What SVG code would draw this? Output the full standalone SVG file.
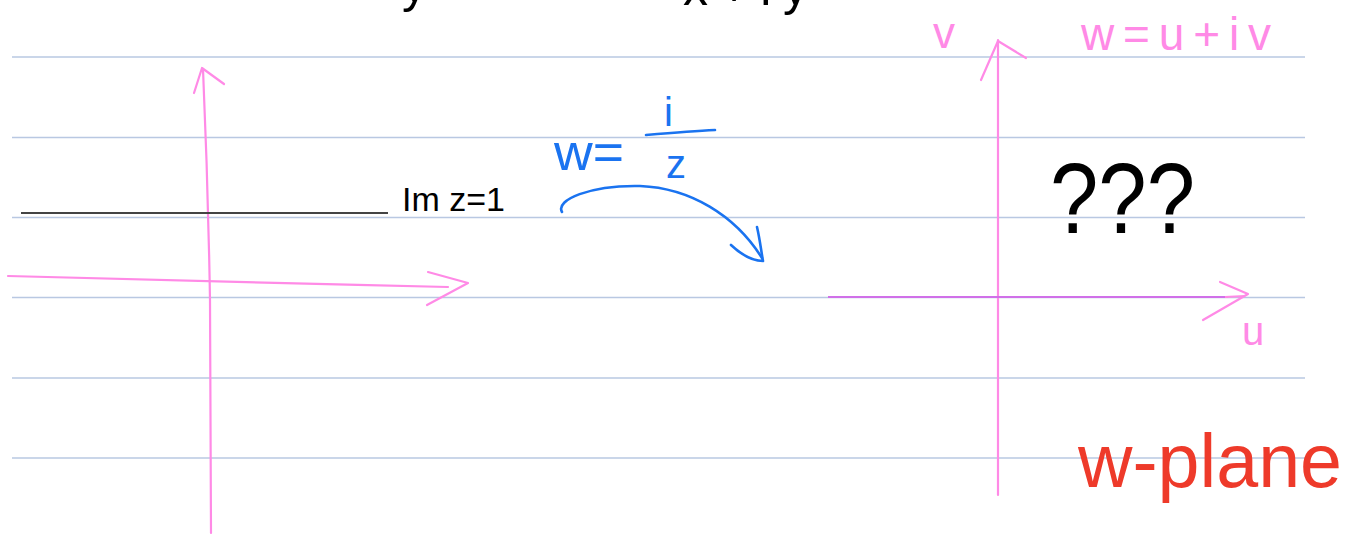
<svg xmlns="http://www.w3.org/2000/svg" width="1346" height="535" viewBox="0 0 1346 535">
<style>
.rule{stroke:#b9c8e2;stroke-width:1.3;fill:none}
.pink{stroke:#ff8ae6;stroke-width:2.2;fill:none;stroke-linecap:round;stroke-linejoin:round}
.blue{stroke:#1a73f0;stroke-width:2.6;fill:none;stroke-linecap:round;stroke-linejoin:round}
.hand{font-family:"Liberation Sans",Arial,sans-serif}
</style>
<rect width="1346" height="535" fill="#ffffff"/>
<g id="ruled-paper">
<line class="rule" x1="12" y1="57" x2="1305" y2="57"/>
<line class="rule" x1="12" y1="137.5" x2="1305" y2="137.5"/>
<line class="rule" x1="12" y1="217.5" x2="1305" y2="217.5"/>
<line class="rule" x1="12" y1="297.5" x2="1305" y2="297.5"/>
<line class="rule" x1="12" y1="378" x2="1305" y2="378"/>
<line class="rule" x1="12" y1="458" x2="1305" y2="458"/>
</g>
<g id="top-cut-text" class="hand" fill="#000" font-size="50">
<text x="402" y="2">y</text>
<text x="683" y="5" textLength="125" lengthAdjust="spacing">x+iy</text>
</g>
<g id="z-plane">
<path class="pink" d="M203,69 C207,160 209,240 210,300 C211,380 210,460 211,533"/>
<path class="pink" d="M194,93 L202,68 L224,84"/>
<path class="pink" d="M8,276 C150,279 300,284 448,287"/>
<path class="pink" d="M428,272 L468,283 L427,305"/>
<line x1="21" y1="213" x2="388" y2="213" stroke="#444" stroke-width="1.8"/>
<text class="hand" x="402" y="211" font-size="34" fill="#000" textLength="103" lengthAdjust="spacingAndGlyphs">Im z=1</text>
</g>
<g id="mapping-label" class="hand" fill="#1a73f0">
<text x="554" y="170" font-size="52" textLength="70" lengthAdjust="spacingAndGlyphs">w=</text>
<text x="664" y="126" font-size="40">i</text>
<path class="blue" d="M646,135 C670,133 695,131 715,130"/>
<text x="666" y="178" font-size="40">z</text>
</g>
<g id="connectors">
<path class="blue" d="M562,212 C555,200 590,185 640,186 C690,188 735,215 762,258"/>
<path class="blue" d="M731,245 C745,258 755,261 763,261 M757,227 C760,240 761,250 763,261"/>
</g>
<g id="w-plane">
<path class="pink" d="M998,40 L998,495"/>
<path class="pink" d="M981,80 L998,41 L1026,58"/>
<line x1="828" y1="297" x2="1228" y2="297" stroke="#d070e8" stroke-width="2"/>
<line x1="1225" y1="297" x2="1245" y2="296" stroke="#ff8ae6" stroke-width="2"/>
<path class="pink" d="M1203,320 L1248,294 L1220,282"/>
<text class="hand" x="1242" y="345" font-size="40" fill="#ff8ae6">u</text>
<text class="hand" x="933" y="48" font-size="44" fill="#ff8ae6">v</text>
<text class="hand" x="1081" y="50" font-size="46" fill="#ff8ae6" textLength="190" lengthAdjust="spacing">w=u+iv</text>
</g>
<g id="question">
<text class="hand" x="1050" y="233" font-size="100" fill="#000" textLength="145" lengthAdjust="spacingAndGlyphs">???</text>
</g>
<g id="w-plane-label">
<text class="hand" x="1078" y="487" font-size="76" fill="#ee3a2a" textLength="264" lengthAdjust="spacingAndGlyphs">w-plane</text>
</g>
</svg>
